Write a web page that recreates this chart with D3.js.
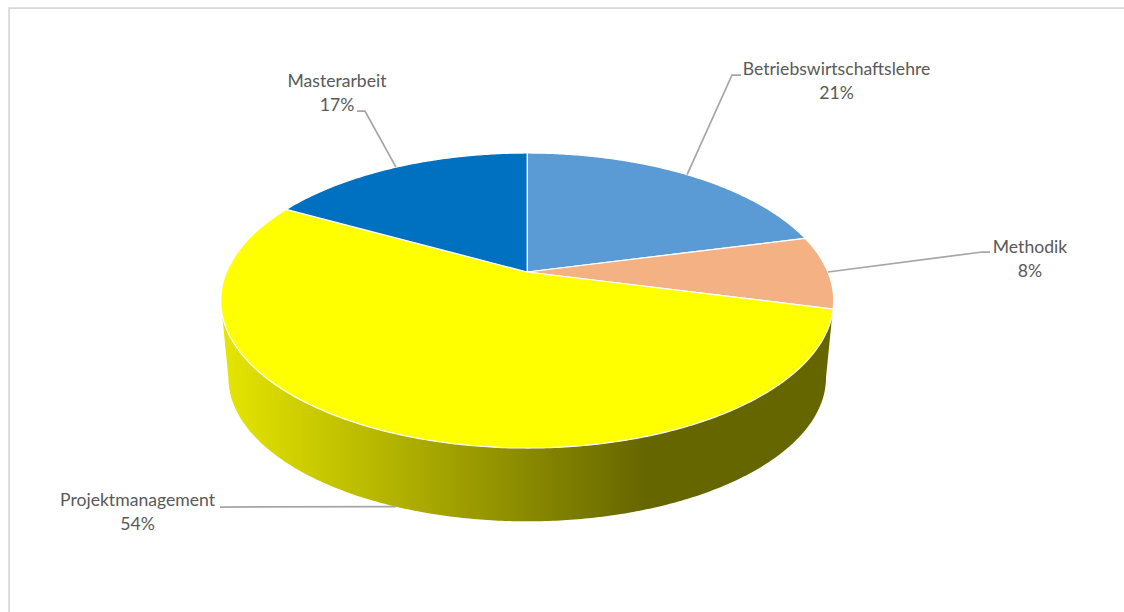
<!DOCTYPE html>
<html lang="de">
<head>
<meta charset="utf-8">
<title>Anteile der Studieninhalte</title>
<script src="https://cdn.jsdelivr.net/npm/d3@7/dist/d3.min.js"></script>
<style>
  html, body { margin: 0; padding: 0; background: #fff; overflow: hidden; }
  svg { display: block; }
  text { font-family: Lato, "Open Sans", sans-serif; font-size: 17.6px; fill: #595959; text-anchor: middle; }
</style>
</head>
<body>
<svg id="chart" width="1124" height="612"></svg>
<script>
// Chart data
const categories = ["Betriebswirtschaftslehre", "Methodik", "Projektmanagement", "Masterarbeit"];
const shares = [21, 8, 54, 17];
const sliceColors = ["#5b9bd5", "#f4b183", "#ffff00", "#0070c0"];

// Label placement: text centre, plus the leader's elbow and its free end
const labelCentres = [[836.5, 69], [1030, 247], [137.5, 500], [337, 81]];
const leaderElbows = [[732, 75], [982, 252], null, [365, 111]];
const leaderEnds = [[741, 75], [990, 252], [220, 507], [357, 111]];

// Perspective model of the disc
const apex = { x: 527.2, y: 272 };
const discRadius = 300.7;
const discDepth = 142;
const tilt = 0.1932;
const baseScale = 0.975;
const baseApexY = 349.7;

const svg = d3.select("#chart");

// Projects a clockwise angle (0 = far side) onto the top face of the disc
function topRim(theta) {
  const w = 1 + tilt * Math.cos(theta);
  return [apex.x + discRadius * Math.sin(theta) / w,
          apex.y - discDepth * Math.cos(theta) / w];
}

// The same rim, on the lower face
function baseRim(theta) {
  const [x, y] = topRim(theta);
  return [apex.x + baseScale * (x - apex.x),
          baseApexY + baseScale * (y - apex.y)];
}

const line = d3.line();

function sampleAngles(a0, a1) {
  const n = Math.max(2, Math.ceil(Math.abs(a1 - a0) / 0.01));
  return d3.range(n + 1).map(i => a0 + (a1 - a0) * i / n);
}

const arcs = d3.pie().sort(null).value(d => d)(shares);

// Wall shading runs horizontally and flattens out towards the right
const wallShade = svg.append("defs").append("linearGradient")
  .attr("id", "wallShade")
  .attr("gradientUnits", "userSpaceOnUse")
  .attr("x1", 221).attr("x2", 645).attr("y1", 0).attr("y2", 0);
wallShade.append("stop").attr("offset", 0).attr("stop-color", "#e6e600");
wallShade.append("stop").attr("offset", 1).attr("stop-color", "#666600");

// Outer frame: only the top and left edges show
svg.append("path")
  .attr("d", "M9.1,612V8.1H1124")
  .attr("fill", "none")
  .attr("stroke", "#d9d9d9")
  .attr("stroke-width", 1.75);

// Visible wall: between the widest points of the disc, round the near side
const widest = Math.acos(-tilt);
const wallAngles = sampleAngles(widest, 2 * Math.PI - widest);
svg.append("path")
  .attr("class", "wall")
  .attr("d", line([topRim(widest), ...wallAngles.map(baseRim), topRim(2 * Math.PI - widest)]) + "Z")
  .attr("fill", "url(#wallShade)");

// Top face slices
svg.append("g").selectAll("path")
  .data(arcs)
  .join("path")
  .attr("d", d => line([[apex.x, apex.y], ...sampleAngles(d.startAngle, d.endAngle).map(topRim)]) + "Z")
  .attr("fill", (d, i) => sliceColors[i])
  .attr("stroke", "#ffffff")
  .attr("stroke-width", 1.25)
  .attr("stroke-linejoin", "round");

// Leader lines start at each slice's mid-angle; the near-side slice uses its wall
const anchor = (d, i) => {
  const mid = (d.startAngle + d.endAngle) / 2;
  return i === 2 ? baseRim(mid) : topRim(mid);
};
svg.append("g").selectAll("path")
  .data(arcs)
  .join("path")
  .attr("d", (d, i) => line([anchor(d, i), leaderElbows[i], leaderEnds[i]].filter(Boolean)))
  .attr("fill", "none")
  .attr("stroke", "#a6a6a6")
  .attr("stroke-width", 1.75);

// Category and percentage labels
const labels = svg.append("g").selectAll("g")
  .data(categories)
  .join("g")
  .attr("transform", (d, i) => `translate(${labelCentres[i][0]},${labelCentres[i][1]})`);
labels.append("text").attr("y", 6).text(d => d);
labels.append("text").attr("y", 30).text((d, i) => `${shares[i]}%`);
</script>
</body>
</html>
